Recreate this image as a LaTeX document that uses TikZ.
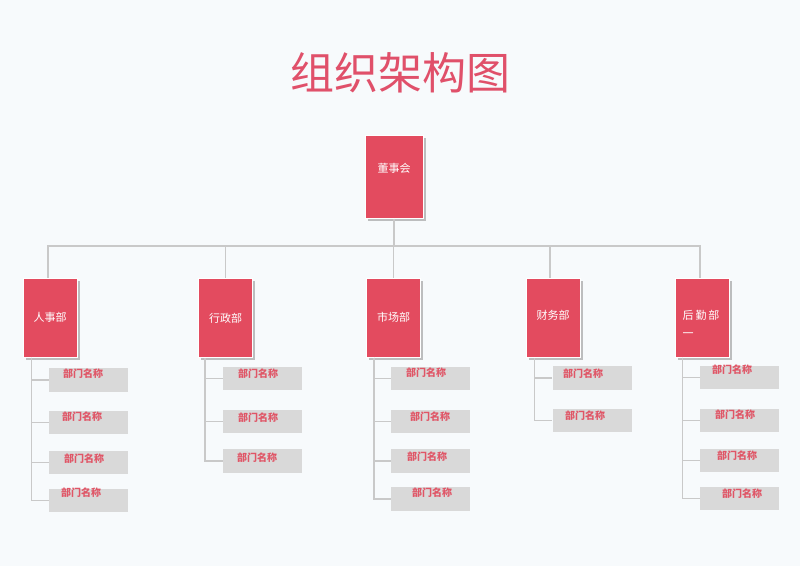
\documentclass[tikz,border=0pt]{standalone}
\usepackage{fontspec}
\newfontfamily\cjk{Noto Sans CJK SC}
\usetikzlibrary{shadows}
\definecolor{bgc}{HTML}{F7FAFC}
\definecolor{redbox}{HTML}{E34B5F}
\definecolor{titlec}{HTML}{E0506A}
\definecolor{subtxt}{HTML}{E05566}
\definecolor{subfill}{HTML}{D9D9D9}
\definecolor{linec}{HTML}{C9C9C9}
\tikzset{
  headbox/.style={fill=redbox, draw=white, line width=1pt, minimum width=58pt, minimum height=83pt,
    inner sep=0pt, text=white, font=\cjk\fontsize{11}{13}\selectfont,
    drop shadow={shadow xshift=2.5pt, shadow yshift=-2.5pt, opacity=0.55, fill=black!45}},
  deptbox/.style={headbox, minimum width=54pt, minimum height=79pt},
  depttext/.style={text=white, font=\cjk\fontsize{11}{18}\selectfont, inner sep=0pt},
  subbox/.style={fill=subfill, draw=none, minimum width=79pt, minimum height=23.5pt, inner sep=0pt},
  subtext/.style={text=subtxt, font=\cjk\bfseries\fontsize{10}{12}\selectfont, inner sep=0pt},
  conn/.style={draw=linec, line width=1.1pt},
}
\begin{document}
\begin{tikzpicture}[x=1pt,y=-1pt]
\useasboundingbox (0,0) rectangle (800,566);
\fill[bgc] (0,0) rectangle (800,566);

\node[text=titlec, font=\cjk\fontsize{44}{48}\selectfont, inner sep=0pt] (title) at (400,73) {组织架构图};

% top
\node[headbox, text depth=17pt] (top) at (394,176.5) {董事会};
\coordinate (bus) at (394,246);

% departments
\node[deptbox] (d1) at (50,317.5) {人事部};
\node[deptbox] (d2) at (225.5,318) {行政部};
\node[deptbox] (d3) at (393.5,317.5) {市场部};
\node[deptbox, text depth=6pt] (d4) at (553,318) {财务部};
\node[deptbox] (d5) at (702,317.5) {};
\node[depttext, align=left] (d5t) at (701,324) {后\,勤\,部\\一};

% connectors top
\draw[conn] (top.south) -- (bus);
\draw[conn] ([xshift=-2pt]d1.north) |- (bus);
\draw[conn] (d2.north) |- (bus);
\draw[conn] (d3.north) |- (bus);
\draw[conn] ([xshift=-3pt]d4.north) |- (bus);
\draw[conn] ([xshift=-2pt]d5.north) |- (bus);

% sub boxes: column 1
\node[subbox] (s11) at (88.5,380) {};
\node[subbox] (s12) at (88.5,422.5) {};
\node[subbox] (s13) at (88.5,462.5) {};
\node[subbox] (s14) at (88.5,500.5) {};
\node[subtext] (t11) at (83,374) {部门名称};
\node[subtext] (t12) at (82,417) {部门名称};
\node[subtext] (t13) at (84,459) {部门名称};
\node[subtext] (t14) at (81,493) {部门名称};
% column 2
\node[subbox] (s21) at (262.5,378.5) {};
\node[subbox] (s22) at (262.5,421.5) {};
\node[subbox] (s23) at (262.5,461) {};
\node[subtext] (t21) at (258,374) {部门名称};
\node[subtext] (t22) at (258,418) {部门名称};
\node[subtext] (t23) at (257,458) {部门名称};
% column 3
\node[subbox] (s31) at (430.5,378.5) {};
\node[subbox] (s32) at (430.5,421.5) {};
\node[subbox] (s33) at (430.5,461) {};
\node[subbox] (s34) at (430.5,499) {};
\node[subtext] (t31) at (426,373) {部门名称};
\node[subtext] (t32) at (430,417) {部门名称};
\node[subtext] (t33) at (427,457) {部门名称};
\node[subtext] (t34) at (432,493) {部门名称};
% column 4
\node[subbox] (s41) at (592,378) {};
\node[subbox] (s42) at (592,420.5) {};
\node[subtext] (t41) at (583,374) {部门名称};
\node[subtext] (t42) at (585,416) {部门名称};
% column 5
\node[subbox] (s51) at (739.5,377.5) {};
\node[subbox] (s52) at (739.5,420.5) {};
\node[subbox] (s53) at (739.5,460.5) {};
\node[subbox] (s54) at (739.5,498.5) {};
\node[subtext] (t51) at (732,370) {部门名称};
\node[subtext] (t52) at (735,415) {部门名称};
\node[subtext] (t53) at (737,456) {部门名称};
\node[subtext] (t54) at (742,494) {部门名称};

% branch connectors
\foreach \s in {s11,s12,s13,s14} \draw[conn] ([xshift=9pt]d1.south west) |- (\s.west);
\foreach \s in {s21,s22,s23} \draw[conn] ([xshift=7pt]d2.south west) |- (\s.west);
\foreach \s in {s31,s32,s33,s34} \draw[conn] ([xshift=8pt]d3.south west) |- (\s.west);
\foreach \s in {s41,s42} \draw[conn] ([xshift=9pt]d4.south west) |- (\s.west);
\foreach \s in {s51,s52,s53,s54} \draw[conn] ([xshift=8pt]d5.south west) |- (\s.west);
\end{tikzpicture}
\end{document}
